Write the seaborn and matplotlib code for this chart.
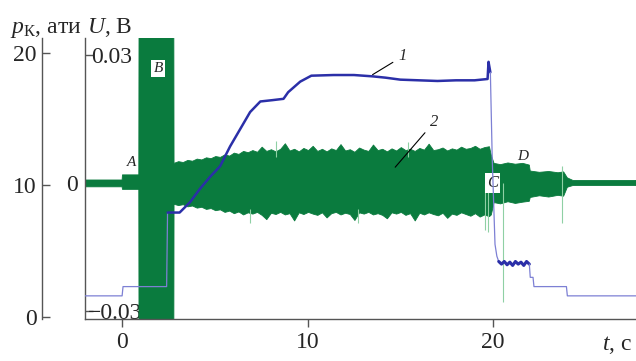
import numpy as np
import matplotlib
matplotlib.use("Agg")
import matplotlib.pyplot as plt
import seaborn as sns

# curve 1: chamber pressure p_K, ati (left outer axis)
p1_t = [-2.0, 0.0, 0.05, 2.4, 2.45]
p1_p = [1.6, 1.6, 2.3, 2.3, 7.9]
p2_t = [2.45, 3.1, 3.67, 4.2, 4.74, 5.28, 5.82, 6.36, 6.9, 7.45, 8.1, 8.7, 8.95,
        9.6, 10.2, 11.4, 12.5, 13.5, 14.2, 15.0, 16.0, 17.0, 18.0, 19.0, 19.7,
        19.75, 19.85]
p2_p = [7.9, 7.9, 8.7, 9.7, 10.6, 11.4, 12.9, 14.2, 15.5, 16.3, 16.4, 16.5, 17.0,
        17.8, 18.25, 18.3, 18.3, 18.2, 18.1, 17.95, 17.9, 17.85, 17.9, 17.9, 18.0,
        19.3, 18.5]
p3_t = [19.85, 19.95, 20.1, 20.2, 20.3]
p3_p = [18.5, 12.0, 5.5, 4.6, 4.2]
p4_t = [20.3, 20.45, 20.6, 20.75, 20.9, 21.05, 21.2, 21.35, 21.5, 21.65, 21.8, 21.95]
p4_p = [4.2, 4.0, 4.2, 3.95, 4.15, 3.9, 4.2, 4.0, 4.15, 3.9, 4.2, 4.0]
p5_t = [21.95, 22.0, 22.15, 22.2, 23.95, 24.0, 27.7]
p5_p = [4.0, 3.0, 3.0, 2.3, 2.3, 1.6, 1.6]

# curve 2: signal U, mV (envelope of the green trace)
pre_t = [-2.0, 0.0]
pre_hi = [0.7, 0.7]
pre_lo = [-0.9, -0.9]
a_t = [0.02, 0.9]
a_hi = [1.9, 1.9]
a_lo = [-1.5, -1.5]
b_t = [0.92, 2.78]
b_hi = [60, 60]
b_lo = [-60, -60]
band_hi = [4.6, 5.0, 4.8, 5.3, 5.1,
           5.6, 5.4, 5.9, 5.7, 6.2, 6.0, 6.6, 6.3, 7.0, 6.7, 7.4, 7.1,
           7.6, 7.2, 8.4, 7.4, 7.8, 7.3, 7.9, 9.2, 7.5, 7.9, 7.3, 8.1,
           7.6, 8.6, 7.4, 7.9, 7.3, 8.0, 7.6, 9.0, 7.5, 7.8, 7.2, 8.2,
           7.7, 7.4, 8.9, 7.6, 7.9, 7.3, 8.0, 7.5, 8.3, 7.6, 7.9, 7.4,
           8.1, 7.7, 9.1, 7.6, 7.8, 8.2, 7.5, 8.0, 7.7, 8.4, 7.9, 8.1,
           8.6, 7.9, 8.3, 8.5]
band_lo = [-5.0, -5.3, -5.1, -5.6, -5.4,
           -5.9, -5.7, -6.2, -6.0, -6.5, -6.3, -6.9, -6.6, -7.2, -6.8, -7.5, -7.0,
           -7.3, -6.9, -7.6, -8.6, -7.1, -7.4, -6.9, -7.5, -7.2, -8.9, -7.0, -7.4,
           -6.9, -7.3, -7.6, -7.0, -8.2, -7.2, -6.9, -7.5, -7.1, -7.4, -8.8, -7.0,
           -7.3, -6.9, -7.5, -7.2, -7.6, -8.4, -7.0, -7.3, -6.9, -7.6, -7.2, -8.9,
           -7.1, -7.5, -7.0, -7.4, -7.7, -7.1, -8.3, -7.3, -7.6, -7.0, -7.4, -7.8,
           -7.2, -8.0, -7.5, -7.9]
band_t = np.linspace(2.8, 19.8, len(band_hi))
c_t = [19.9, 20.05, 20.4, 20.8, 21.2, 21.6, 21.95]
c_hi = [6.5, 4.6, 4.3, 4.7, 4.4, 4.6, 4.2]
c_lo = [-7.5, -4.6, -4.9, -4.4, -4.8, -4.5, -4.3]
d_t = [22.0, 22.5, 23.0, 23.5, 23.8]
d_hi = [2.8, 2.5, 2.7, 2.4, 2.6]
d_lo = [-3.4, -3.0, -3.3, -2.9, -3.1]
tail_t = [24.0, 24.3, 27.7]
tail_hi = [1.2, 0.6, 0.6]
tail_lo = [-1.0, -0.6, -0.6]

# thin spikes of the signal, mV
spk_t = [19.55, 19.7, 20.55, 23.7, 8.3, 12.7, 6.9, 15.4]
spk_lo = [-11.0, -11.5, -28.0, -9.4, 6.0, -9.4, -9.3, 6.0]
spk_hi = [0.0, 0.0, 0.0, 4.0, 9.8, -6.0, -6.0, 9.5]

sig_t = np.concatenate([pre_t, a_t, b_t, band_t, c_t, d_t, tail_t])
sig_hi = np.concatenate([pre_hi, a_hi, b_hi, band_hi, c_hi, d_hi, tail_hi]) / 1000
sig_lo = np.concatenate([pre_lo, a_lo, b_lo, band_lo, c_lo, d_lo, tail_lo]) / 1000

sns.set_theme(style="ticks")
plt.rcParams['font.family'] = ['Liberation Serif', 'DejaVu Serif']
plt.rcParams['mathtext.fontset'] = 'custom'
plt.rcParams['mathtext.rm'] = 'Liberation Serif'
plt.rcParams['mathtext.it'] = 'Liberation Serif:italic'

green = "#0a7b3e"
blue = "#2b2fa8"
lblue = "#7d80d4"

fig = plt.figure(figsize=(6.36, 3.61), dpi=100)
ax = fig.add_axes([85 / 636, 1 - 319 / 361, 551 / 636, 281 / 361])
ax2 = ax.twinx()

# green signal on U axis
ax2.fill_between(sig_t, sig_lo, sig_hi, color=green, lw=0.6, edgecolor=green)
ax2.vlines(spk_t, np.array(spk_lo) / 1000, np.array(spk_hi) / 1000,
           color="#8fd0a4", lw=0.8)

# blue pressure curve on p axis
sns.lineplot(x=p1_t, y=p1_p, ax=ax, color=lblue, lw=0.9, sort=False, estimator=None)
sns.lineplot(x=p2_t, y=p2_p, ax=ax, color=blue, lw=1.8, sort=False, estimator=None)
sns.lineplot(x=p3_t, y=p3_p, ax=ax, color=lblue, lw=0.9, sort=False, estimator=None)
sns.lineplot(x=p4_t, y=p4_p, ax=ax, color=blue, lw=2.2, sort=False, estimator=None)
sns.lineplot(x=p5_t, y=p5_p, ax=ax, color=lblue, lw=0.9, sort=False, estimator=None)

ax.set_zorder(ax2.get_zorder() + 1)
ax.patch.set_visible(False)

ax.set_xlim(-2, 27.7)
ax.set_ylim(-0.15, 21.1)
ax2.set_ylim(-0.0319, 0.034)

for s in ["top", "right"]:
    ax.spines[s].set_visible(False)
for s in ["top", "right", "bottom"]:
    ax2.spines[s].set_visible(False)
ax2.spines["left"].set_visible(True)
ax.spines["left"].set_position(("outward", 31))
for a in (ax, ax2):
    for sp in a.spines.values():
        sp.set_color("#555555")
        sp.set_linewidth(1.0)

ax.set_xticks([0, 10, 20])
ax.set_yticks([0, 10, 20])
ax.tick_params(axis="x", direction="out", length=6, width=1, labelsize=17, pad=3, color="#555555")
ax.tick_params(axis="y", direction="in", length=6, width=1, labelsize=17, pad=4, color="#555555")

ax2.yaxis.tick_left()
ax2.set_yticks([-0.03, 0, 0.03], ["\u22120.03", "0", "0.03"])
ax2.tick_params(axis="y", direction="in", length=6, width=1, labelsize=17, color="#555555")
ticks = ax2.yaxis.get_major_ticks()
ticks[0].set_pad(-41)
ticks[1].set_pad(5)
ticks[2].set_pad(-34)
ax2.set_ylabel("")
ax.set_ylabel("")

ax.set_xlabel(r"$t$, с", fontsize=17, ha="right", va="center")
ax.xaxis.set_label_coords(0.993, -0.093)

fig.text(10 / 636, 1 - 33 / 361, r"$p_{\mathrm{К}}$, ати", fontsize=17, va="baseline")
fig.text(87 / 636, 1 - 33 / 361, r"$U$, В", fontsize=17, va="baseline")

# point labels
box = dict(facecolor="white", edgecolor="none", pad=1.5)
ax2.text(0.49, 0.0049, "A", style="italic", fontsize=11, ha="center", va="center")
ax2.text(1.94, 0.0269, "B", style="italic", fontsize=11, ha="center", va="center", bbox=box)
ax2.text(19.95, 0.0, "C", style="italic", fontsize=12, ha="center", va="center", bbox=box)
ax2.text(21.6, 0.0061, "D", style="italic", fontsize=11, ha="center", va="center")
ax2.annotate("1", xy=(13.5, 0.0254), xytext=(14.9, 0.0297), style="italic", fontsize=12,
             ha="left", va="center", arrowprops=dict(arrowstyle="-", lw=0.8, color="black",
                                                       shrinkA=2, shrinkB=0))
ax2.annotate("2", xy=(14.72, 0.0037), xytext=(16.6, 0.0143), style="italic", fontsize=12,
             ha="left", va="center", arrowprops=dict(arrowstyle="-", lw=0.8, color="black",
                                                       shrinkA=2, shrinkB=0))

fig.savefig("out.png", dpi=100, facecolor="white")
